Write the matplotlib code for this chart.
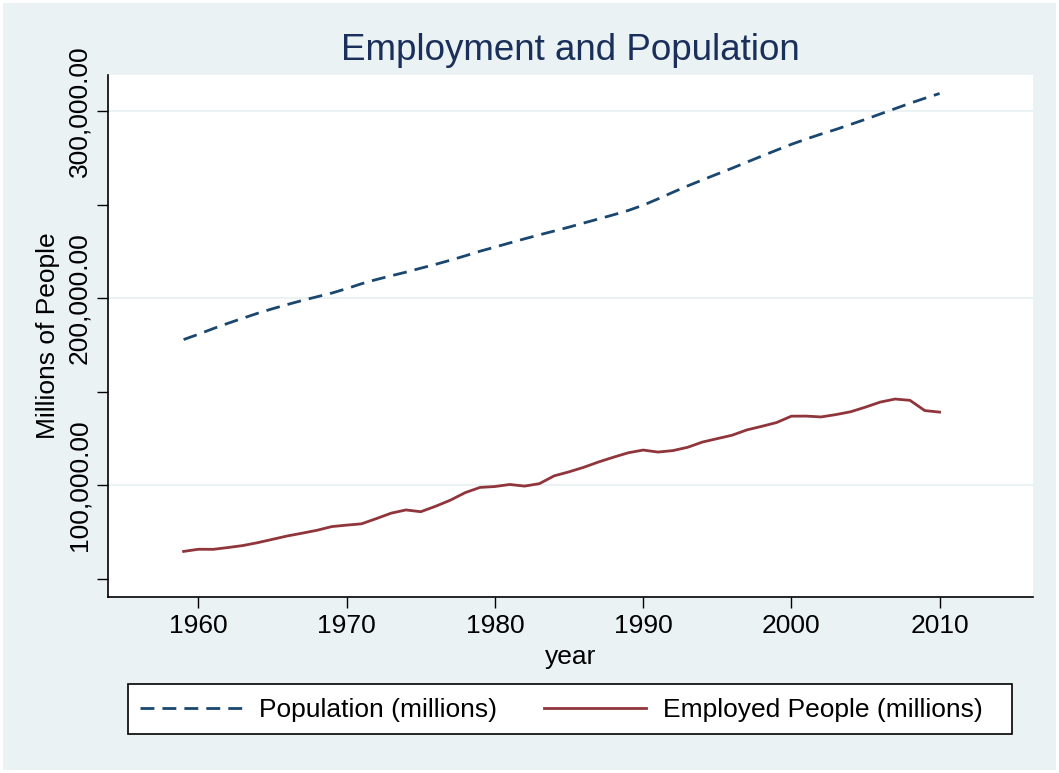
import numpy as np
import matplotlib.pyplot as plt
from matplotlib.patches import Rectangle

plt.rcParams['font.family'] = ['Liberation Sans', 'DejaVu Sans']

# data to plot (thousands of people)
years = list(range(1959, 2011))
population = [177830, 180671, 183691, 186538, 189242, 191889, 194303, 196560,
              198712, 200706, 202677, 205052, 207661, 209896, 211909, 213854,
              215973, 218035, 220239, 222585, 225055, 227225, 229466, 231664,
              233792, 235825, 237924, 240133, 242289, 244499, 246819, 249623,
              252981, 256514, 259919, 263126, 266278, 269394, 272647, 275854,
              279040, 282162, 284969, 287625, 290108, 292805, 295517, 298380,
              301231, 304094, 306772, 309326]
employed = [64630, 65778, 65746, 66702, 67762, 69305, 71088, 72895,
            74372, 75920, 77902, 78678, 79367, 82153, 85064, 86794,
            85846, 88752, 92017, 96048, 98824, 99303, 100397, 99526,
            100834, 105005, 107150, 109597, 112440, 114968, 117342, 118793,
            117718, 118492, 120259, 123060, 124900, 126708, 129558, 131463,
            133488, 136891, 136933, 136485, 137736, 139252, 141730, 144427,
            146047, 145362, 139877, 139064]
x_ticks = [1960, 1970, 1980, 1990, 2000, 2010]
y_major = [100000, 200000, 300000]
y_minor = [50000, 150000, 250000]

bg = '#eaf2f3'
W, H = 1059, 773
fs = 19

fig = plt.figure(figsize=(W / 100, H / 100), dpi=100, facecolor='white')
fig.patches.append(Rectangle((3 / W, 3 / H), 1 - 6 / W, 1 - 6 / H,
                             transform=fig.transFigure, facecolor=bg,
                             edgecolor='none', zorder=-10))

ax = fig.add_axes([108 / W, 1 - 597 / H, (1033 - 108) / W, (597 - 75) / H])
ax.set_facecolor('white')

ax.plot(years, population, color='#1a476f', lw=2.0, dashes=(5, 2.9),
        label='Population (millions)')
ax.plot(years, employed, color='#90353b', lw=2.0,
        label='Employed People (millions)')

ax.set_xlim(1953.9, 2016.3)
ax.set_ylim(40270, 319200)

ax.set_xticks(x_ticks)
ax.set_yticks(y_major)
ax.set_yticks(y_minor, minor=True)
ax.set_yticklabels(['{:,.2f}'.format(v) for v in y_major], rotation=90,
                   va='center')
ax.tick_params(axis='both', which='both', direction='out', length=8,
               width=1, labelsize=fs, colors='black', pad=4)
ax.grid(axis='y', which='major', color=bg, lw=1.5)
ax.set_axisbelow(True)

for s in ['top', 'right']:
    ax.spines[s].set_visible(False)
for s in ['left', 'bottom']:
    ax.spines[s].set_linewidth(1.2)

ax.set_xlabel('year', fontsize=fs, labelpad=5)
ax.set_ylabel('Millions of People', fontsize=fs, labelpad=5)
fig.text(0.5 * (108 + 1033) / W, 1 - 50 / H, 'Employment and Population',
         ha='center', va='center', fontsize=26.5, color='#1a2f5a')

# legend box drawn by hand, entries placed inside it
fig.patches.append(Rectangle((128 / W, 1 - 734 / H), 884 / W, 50 / H,
                             transform=fig.transFigure, facecolor='white',
                             edgecolor='black', lw=1.2, zorder=5))
leg = fig.legend(loc='center left', bbox_to_anchor=(140 / W, 1 - 710 / H),
                 ncol=2, frameon=False, borderpad=0, borderaxespad=0,
                 fontsize=fs, handlelength=3.85, handletextpad=0.65,
                 columnspacing=1.8)
leg.set_zorder(6)

plt.savefig('out.png', dpi=100, facecolor=fig.get_facecolor())
